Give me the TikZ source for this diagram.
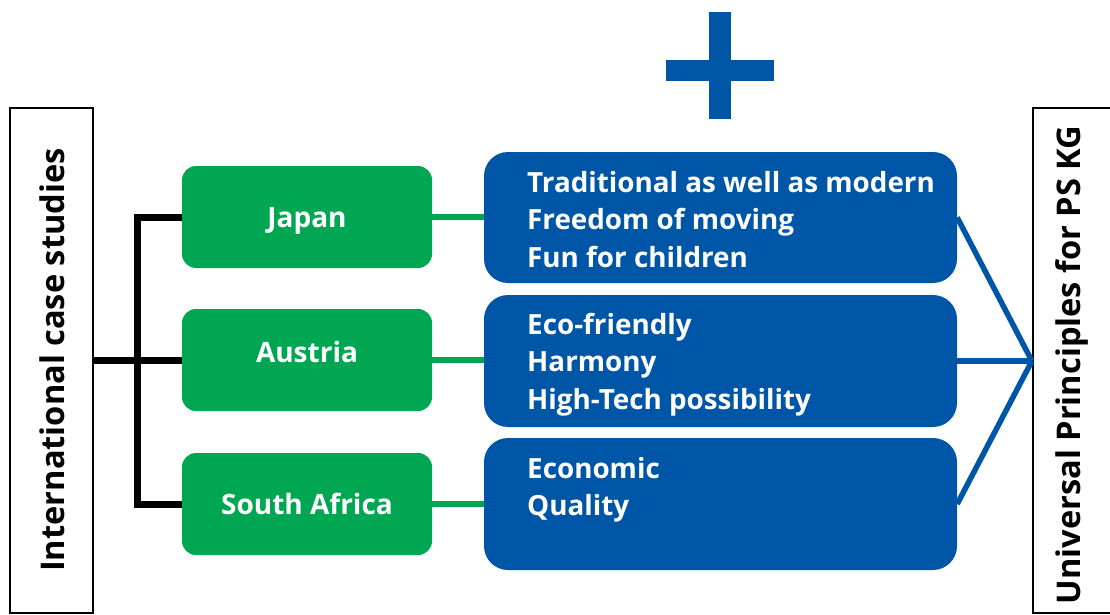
\documentclass[tikz,border=0pt]{standalone}
\usepackage{fontspec}
\setmainfont{Open Sans}
\definecolor{cgreen}{RGB}{0,166,81}
\definecolor{cblue}{RGB}{0,86,166}
\begin{document}
\begin{tikzpicture}[x=1pt,y=-1pt,
  frame/.style={draw=black, line width=2.2pt, fill=white, inner sep=0pt},
  sidetext/.style={rotate=90, inner sep=0pt, font=\bfseries\fontsize{32.6}{38}\selectfont},
  gbox/.style={fill=cgreen, rounded corners=14pt, minimum width=250pt, minimum height=102pt, inner sep=0pt, text height=20pt, text depth=0pt, text=white, font=\bfseries\fontsize{28}{34}\selectfont},
  bbox/.style={fill=cblue, rounded corners=24pt, minimum width=473pt, inner sep=0pt},
  btext/.style={text=white, font=\bfseries\fontsize{27.8}{37.5}\selectfont, align=left, anchor=north west, inner sep=0pt},
  blk/.style={line width=7pt, draw=black},
  glink/.style={line width=5.5pt, draw=cgreen},
  blink/.style={line width=5.5pt, draw=cblue},
  plusbar/.style={fill=cblue}
]
\useasboundingbox (0,0) rectangle (1110,615);

% side frames
\node[frame, minimum width=83pt, minimum height=505pt] (L) at (51.5,360.5) {};
\node[sidetext] (Lt) at (52,360) {International case studies};
\node[frame, minimum width=80pt, minimum height=505pt] (R) at (1073,360.5) {};
\node[sidetext] (Rt) at (1071.5,365) {Universal Principles for PS KG};

% green boxes
\node[gbox] (J) at (307,217) {Japan};
\node[gbox, text depth=16pt] (A) at (307,360) {Austria};
\node[gbox] (S) at (307,504) {South Africa};

% blue boxes
\node[bbox, minimum height=131pt] (B1) at (720.5,217.5) {};
\node[bbox, minimum height=132pt] (B2) at (720.5,361) {};
\node[bbox, minimum height=132pt] (B3) at (720.5,504) {};

\node[btext] (T1) at (527,171) {Traditional as well as modern\\Freedom of moving\\Fun for children};
\node[btext] (T2) at (527,313) {Eco-friendly\\Harmony\\High-Tech possibility};
\node[btext] (T3) at (527,457) {Economic\\Quality};

% plus sign
\fill[plusbar] (709,12) rectangle (731,119);
\fill[plusbar] (666,60) rectangle (774,81);

% black tree
\coordinate (spine) at (137,0);
\draw[blk] (L.east |- A.west) -- (A.west);
\draw[blk] (J.west) -- (J.west -| spine) -- (S.west -| spine) -- (S.west);

% green links
\draw[glink] (J.east) -- (B1.west |- J.east);
\draw[glink] (A.east) -- (B2.west |- A.east);
\draw[glink] (S.east) -- (B3.west |- S.east);

% blue links
\coordinate (hub) at (R.west |- B2.east);
\draw[blink] (B1.east) -- (hub);
\draw[blink] (B2.east) -- (hub);
\draw[blink] (B3.east) -- (hub);
\end{tikzpicture}
\end{document}
